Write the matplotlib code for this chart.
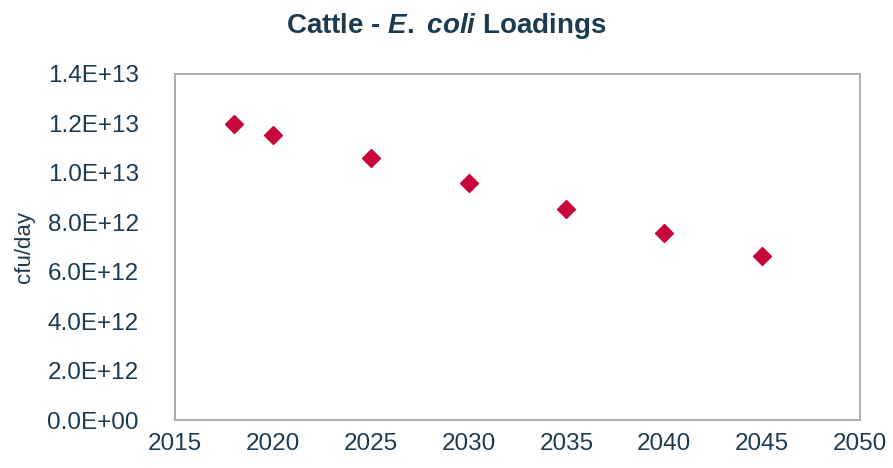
import matplotlib
matplotlib.use("Agg")
import matplotlib.pyplot as plt

# donnees
years = [2018, 2020, 2025, 2030, 2035, 2040, 2045]
loadings = [1.197e13, 1.155e13, 1.059e13, 9.58e12, 8.55e12, 7.59e12, 6.66e12]
y_ticks = [0, 2e12, 4e12, 6e12, 8e12, 1.0e13, 1.2e13, 1.4e13]
y_labels = ["0.0E+00", "2.0E+12", "4.0E+12", "6.0E+12", "8.0E+12",
            "1.0E+13", "1.2E+13", "1.4E+13"]
x_ticks = [2015, 2020, 2025, 2030, 2035, 2040, 2045, 2050]

navy = "#1d3b50"
plt.rcParams["font.family"] = ["Liberation Sans", "DejaVu Sans"]
plt.rcParams["mathtext.fontset"] = "custom"
plt.rcParams["mathtext.rm"] = "Liberation Sans:bold"
plt.rcParams["mathtext.it"] = "Liberation Sans:italic:bold"
plt.rcParams["mathtext.bf"] = "Liberation Sans:bold"

fig = plt.figure(figsize=(8.93, 4.68), dpi=100)
ax = fig.add_axes([0.196, 0.1015, 0.767, 0.7405])

ax.plot(years, loadings, linestyle="none", marker="D", markersize=9.5,
        color="#c8073b")

ax.set_xlim(2015, 2050)
ax.set_ylim(0, 1.4e13)
ax.set_xticks(x_ticks)
ax.set_xticklabels([str(x) for x in x_ticks])
ax.set_yticks(y_ticks)
ax.set_yticklabels(y_labels)
ax.tick_params(axis="both", length=0, labelsize=17.5, labelcolor=navy)
ax.tick_params(axis="y", pad=26)
ax.tick_params(axis="x", pad=9)

for s in ax.spines.values():
    s.set_color("#a6a6a6")
    s.set_linewidth(1.3)

ax.set_ylabel("cfu/day", fontsize=16, color=navy, labelpad=9)
fig.text(0.5, 0.945, r"Cattle - $\it{E.}$ $\it{coli}$ Loadings", ha="center", va="center",
         fontsize=20, color=navy, fontweight="bold")

# plt.show()
fig.savefig("out.png", dpi=100)
